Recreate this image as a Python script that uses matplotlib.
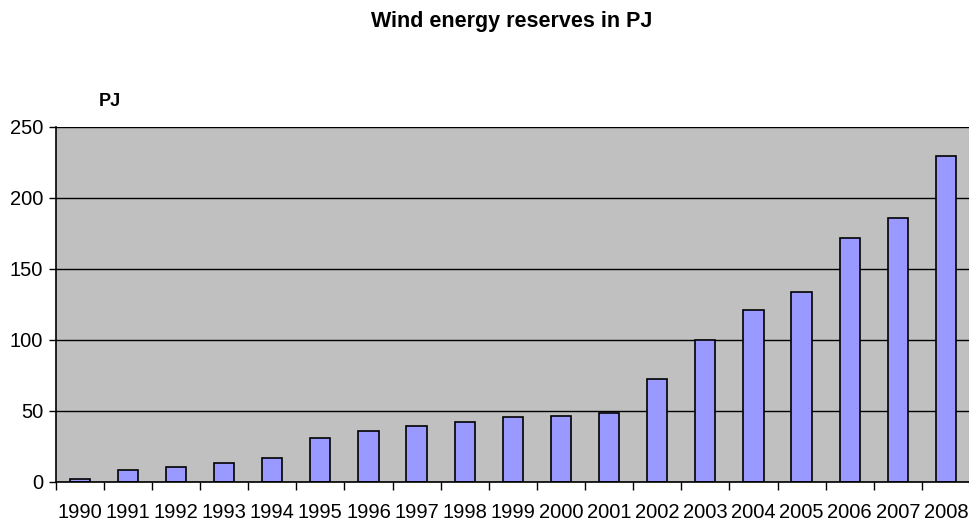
import numpy as np
import matplotlib
matplotlib.use("Agg")
import matplotlib.pyplot as plt

years = [str(y) for y in range(1990, 2009)]
reserves = [2, 8.3, 10.5, 13.5, 16.8, 30.8, 36.2, 39.4, 42.5, 45.5, 46.7, 48.6,
            72.5, 100, 121, 133.7, 171.7, 186.2, 229.6]
yticks = [0, 50, 100, 150, 200, 250]

plt.rcParams['font.family'] = ['Liberation Sans', 'DejaVu Sans']

fig = plt.figure(figsize=(9.7, 5.2), dpi=100)
ax = fig.add_axes([0.0574, 0.0731, 0.9426, 0.6827])
ax.set_facecolor('#C0C0C0')

x = np.arange(len(years))
ax.bar(x, reserves, width=0.42, color='#9999FF', edgecolor='black', linewidth=1.2, zorder=3)

ax.set_xlim(-0.5, len(years) - 0.5)
ax.set_ylim(0, 250)
ax.set_yticks(yticks)
ax.set_yticklabels([str(v) for v in yticks], fontsize=14.5)
ax.yaxis.grid(True, color='black', linewidth=1.0, zorder=1)

ax.set_xticks(x)
ax.set_xticklabels(years, fontsize=14.5)
ax.set_xticks(np.arange(-0.5, len(years), 1), minor=True)
ax.tick_params(axis='x', which='major', length=0, pad=15)
ax.tick_params(axis='x', which='minor', length=6, width=1, color='black', direction='out')
ax.tick_params(axis='y', length=5, width=1, direction='out', pad=4)

for side in ['top', 'right']:
    ax.spines[side].set_visible(False)
for side in ['left', 'bottom']:
    ax.spines[side].set_color('black')
    ax.spines[side].set_linewidth(1.2)
    ax.spines[side].set_zorder(4)

fig.text(0.527, 0.958, 'Wind energy reserves in PJ', ha='center', va='center',
         fontsize=15.5, fontweight='bold')
fig.text(0.113, 0.804, 'PJ', ha='center', va='center', fontsize=13, fontweight='bold')

fig.savefig('out.png', dpi=100)
